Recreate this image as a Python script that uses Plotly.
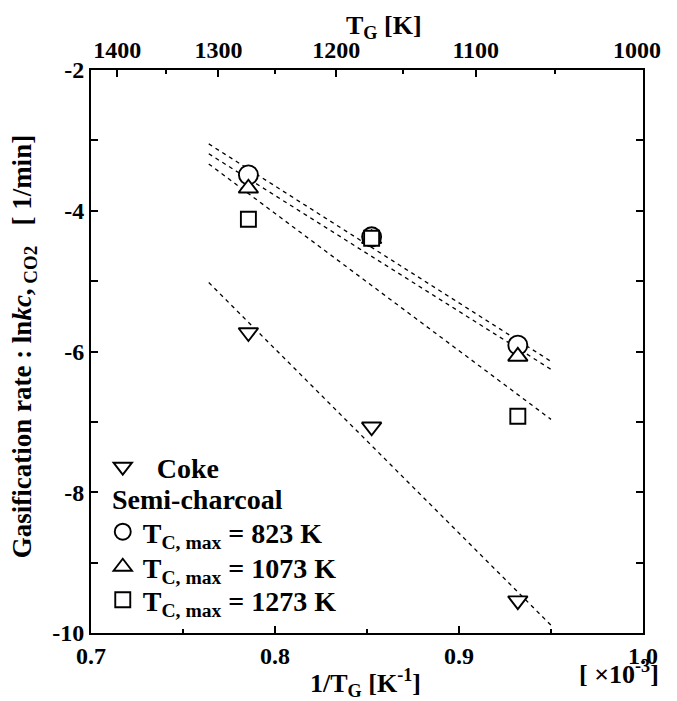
import numpy as np
import plotly.graph_objects as go

# ---- data ----
T_G = [1273, 1173, 1073]                 # gasification temperature [K]
inv_T = [1000.0 / t for t in T_G]        # 1/T_G  [x10^-3 K^-1]
coke = [-5.73, -7.07, -9.54]
semi_823 = [-3.49, -4.37, -5.91]
semi_1073 = [-3.68, -4.40, -6.07]
semi_1273 = [-4.12, -4.39, -6.92]
fit_x_range = [0.764, 0.95]

x_ticks = [0.7, 0.8, 0.9, 1.0]
x_minor = [0.75, 0.85, 0.95]
y_ticks = [-10, -8, -6, -4, -2]
y_minor = [-9, -7, -5, -3]
top_T_major = [1400, 1300, 1200, 1100, 1000]
top_T_minor = [1350, 1250, 1150, 1050]

FONT = "Liberation Serif"
BLACK = "black"

# page geometry: the html body has an 8 px default margin
W, H = 677, 701
OFF = 8
ML, MT = 91 - OFF, 70 - OFF
PW, PH = 563, 563
MR, MB = W - ML - PW, H - MT - PH


def px(xs):
    """screen x (px) -> paper x"""
    return (xs - OFF - ML) / PW


def py(ys):
    """screen y (px) -> paper y"""
    return 1 - (ys - OFF - MT) / PH


def fit_line(y):
    k, b = np.polyfit(inv_T, y, 1)
    xs = np.array(fit_x_range)
    return xs, k * xs + b


fig = go.Figure()

series = [
    # name, values, symbol, size, legend id, legend symbol centre y (screen px)
    ("\u00a0\u00a0Coke", coke, "triangle-down", 17, "legend", 467),
    ("T<sub>C, max</sub> = 823 K", semi_823, "circle", 19, "legend2", 532),
    ("T<sub>C, max</sub> = 1073 K", semi_1073, "triangle-up", 17, "legend3", 567),
    ("T<sub>C, max</sub> = 1273 K", semi_1273, "square", 15, "legend4", 600),
]

for name, y, sym, size, leg, ly in series:
    xs, ys = fit_line(y)
    fig.add_trace(go.Scatter(
        x=xs, y=ys, mode="lines",
        line=dict(color=BLACK, width=1.3, dash="4px,4px"),
        showlegend=False, hoverinfo="skip"))

for name, y, sym, size, leg, ly in series:
    fig.add_trace(go.Scatter(
        x=inv_T, y=y, mode="markers", name=name, legend=leg,
        marker=dict(symbol=sym, size=size, color="white",
                    line=dict(color=BLACK, width=1.9))))

# invisible trace to carry the top (temperature) axis
fig.add_trace(go.Scatter(x=inv_T, y=coke, xaxis="x2", mode="markers",
                         marker=dict(opacity=0), showlegend=False, hoverinfo="skip"))

LEG_FONT = dict(family=FONT, size=28, color=BLACK, weight="bold")
legends = {}
for name, y, sym, size, leg, ly in series:
    legends[leg] = dict(x=px(123 - 20), y=py(ly), xanchor="left", yanchor="middle",
                        bgcolor="rgba(0,0,0,0)", borderwidth=0, font=LEG_FONT)

tickfont = dict(family=FONT, size=24, color=BLACK, weight="bold")
tick_style = dict(ticks="inside", ticklen=7, tickwidth=1.5, tickcolor=BLACK,
                  showgrid=False, zeroline=False, tickfont=tickfont,
                  showline=True, linewidth=2, linecolor=BLACK,
                  ticklabeloverflow="allow")

top_text = [str(t) for t in top_T_major]
top_text[-1] = top_text[-1] + "\u00a0\u00a0"   # nudge the last label inwards

fig.update_layout(
    width=W, height=H,
    margin=dict(l=ML, r=MR, t=MT, b=MB),
    paper_bgcolor="white", plot_bgcolor="white",
    font=dict(family=FONT, color=BLACK),
    showlegend=True,
    xaxis=dict(range=[0.7, 1.0], tickmode="array", tickvals=x_ticks,
               ticktext=[f"{v:.1f}" for v in x_ticks],
               minor=dict(tickmode="array", tickvals=x_minor, ticks="inside",
                          ticklen=4, tickwidth=1.5, tickcolor=BLACK),
               mirror=False, **tick_style),
    xaxis2=dict(overlaying="x", side="top", range=[0.7, 1.0],
                tickmode="array", tickvals=[1000.0 / t for t in top_T_major],
                ticktext=top_text,
                minor=dict(tickmode="array", tickvals=[1000.0 / t for t in top_T_minor],
                           ticks="inside", ticklen=4, tickwidth=1.5, tickcolor=BLACK),
                **tick_style),
    yaxis=dict(range=[-10, -2], tickmode="array", tickvals=y_ticks,
               ticktext=[str(v) for v in y_ticks],
               minor=dict(tickmode="array", tickvals=y_minor, ticks="inside", ticklen=7,
                          tickwidth=1.5, tickcolor=BLACK),
               mirror="ticks", **tick_style),
    **legends,
)

ann_font = dict(family=FONT, size=26, color=BLACK, weight="bold")
fig.add_annotation(text="1/T<sub>G</sub> [K<sup>-1</sup>]", xref="paper", yref="paper",
                   x=px(371), y=py(683), xanchor="center", yanchor="middle",
                   showarrow=False, font=ann_font)
fig.add_annotation(text="[ \u00d710<sup>-3</sup>]", xref="paper", yref="paper",
                   x=px(672), y=py(672), xanchor="right", yanchor="middle",
                   showarrow=False, font=ann_font)
fig.add_annotation(text="T<sub>G</sub> [K]", xref="paper", yref="paper",
                   x=px(390), y=py(27), xanchor="center", yanchor="middle",
                   showarrow=False, font=ann_font)
fig.add_annotation(text="Semi-charcoal", xref="paper", yref="paper",
                   x=px(110), y=py(500), xanchor="left", yanchor="middle",
                   showarrow=False, font=LEG_FONT)
fig.add_annotation(text="Gasification rate : ln<i>kc</i>,<sub> CO2</sub>   [ 1/min]",
                   xref="paper", yref="paper", x=px(23), y=py(347), textangle=-90,
                   xanchor="center", yanchor="middle", showarrow=False,
                   font=dict(family=FONT, size=27, color=BLACK, weight="bold"))

fig.write_html("out.html")
